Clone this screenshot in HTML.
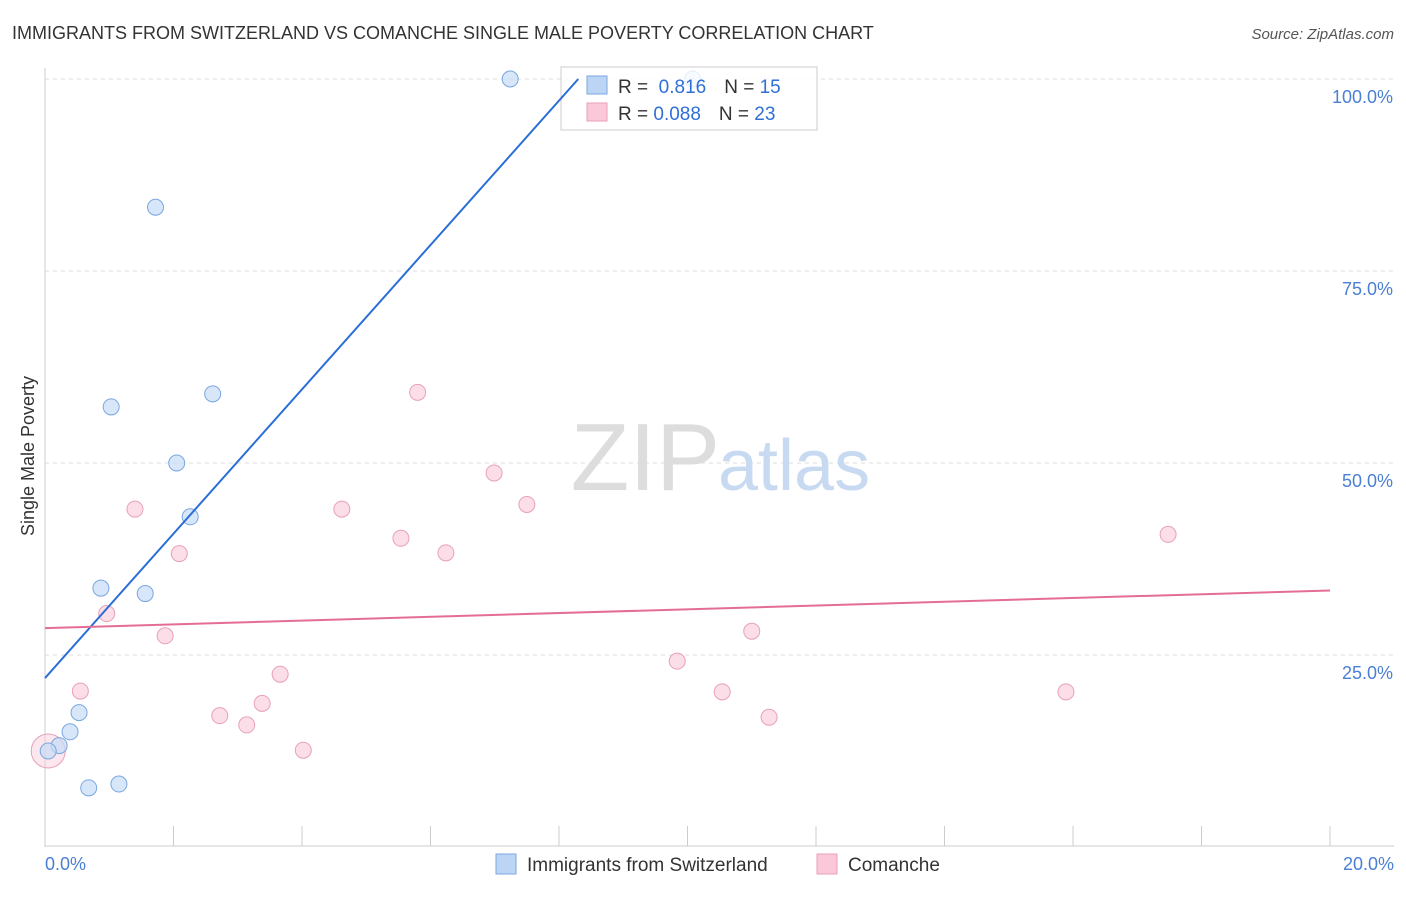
<!DOCTYPE html>
<html><head><meta charset="utf-8"><style>
body{margin:0;background:#fff;font-family:"Liberation Sans",sans-serif;}
svg text{font-family:"Liberation Sans",sans-serif;}
</style></head><body>
<svg width="1406" height="892">
<text x="12" y="39" font-size="18" fill="#333">IMMIGRANTS FROM SWITZERLAND VS COMANCHE SINGLE MALE POVERTY CORRELATION CHART</text>
<text x="1394" y="39" font-size="15" fill="#555" text-anchor="end" font-style="italic">Source: ZipAtlas.com</text>
<g id="grid"></g>
<text x="720" y="490" font-size="96" fill="#ddd" text-anchor="end" font-family="Liberation Serif">ZIP</text>
<text x="718" y="490" font-size="72" fill="#c8daf2">atlas</text>
<text transform="translate(34,456) rotate(-90)" font-size="18" fill="#333" text-anchor="middle">Single Male Poverty</text>
<text x="45" y="870" font-size="18" fill="#4a7fd4">0.0%</text>
<text x="1394" y="870" font-size="18" fill="#4a7fd4" text-anchor="end">20.0%</text>
<g id="marks"></g>
<g>
<rect x="561" y="67" width="256" height="63" fill="#fff" fill-opacity="0.8" stroke="#ccc"/>
<rect x="587" y="76" width="20" height="18" fill="#bcd5f5" stroke="#7aa7e0"/>
<rect x="587" y="103" width="20" height="18" fill="#fac8d8" stroke="#eba0b8"/>
<text x="618" y="93" font-size="19" fill="#333">R = <tspan fill="#2f6fd6">&#160;0.816</tspan><tspan dx="18">N = </tspan><tspan fill="#2f6fd6">15</tspan></text>
<text x="618" y="120" font-size="19" fill="#333">R = <tspan fill="#2f6fd6">0.088</tspan><tspan dx="18">N = </tspan><tspan fill="#2f6fd6">23</tspan></text>
</g>
<g id="lines"></g>
<g>
<rect x="496" y="854" width="20" height="20" fill="#bcd5f5" stroke="#7aa7e0"/>
<text x="527" y="871" font-size="19" fill="#333">Immigrants from Switzerland</text>
<rect x="817" y="854" width="20" height="20" fill="#fac8d8" stroke="#eba0b8"/>
<text x="848" y="871" font-size="19" fill="#333">Comanche</text>
</g>
</svg>
<script>
const yTicks=[25,50,75,100];
const xTicks=[0,2,4,6,8,10,12,14,16,18,20];
const blueX=[7.24,1.72,1.03,2.61,2.05,2.26,0.87,1.56,0.53,0.39,0.22,0.68,1.15,0.05,10.08];
const blueY=[100,83.3,57.3,59,50,43,33.7,33,17.5,15,13.2,7.7,8.2,12.5,100];
const pinkX=[1.4,2.09,0.96,1.87,0.55,4.62,5.54,6.24,5.8,6.99,7.5,3.66,3.38,2.72,3.14,4.02,9.84,10.54,11.0,11.27,15.89,17.48,0.05];
const pinkY=[44,38.2,30.4,27.5,20.3,44,40.2,38.3,59.2,48.7,44.6,22.5,18.7,17.1,15.9,12.6,24.2,20.2,28.1,16.9,20.2,40.7,12.5];
const blueTrend=[[0,22],[8.3,100]];
const pinkTrend=[[0,28.5],[20,33.4]];
const X=v=>45+v/20*1285, Y=v=>847-v/100*768;
const NS="http://www.w3.org/2000/svg";
const g=document.getElementById('grid'), m=document.getElementById('marks'), ln=document.getElementById('lines');
function mk(tag,a,p){const e=document.createElementNS(NS,tag);for(const k in a)e.setAttribute(k,a[k]);p.appendChild(e);return e;}
let ax=mk('line',{x1:45,y1:68,x2:45,y2:847,stroke:'#ccc'},g);


let bx=mk('line',{x1:45,y1:846,x2:1394,y2:846,stroke:'#ccc'},g);


yTicks.forEach(t=>{
 const l=mk('line',{x1:45,x2:1394,y1:Y(t),y2:Y(t),stroke:'#ddd','stroke-dasharray':'4,4'},g);
 
 
 const tx=mk('text',{x:1393,y:Y(t)+24,'font-size':18,fill:'#4a7fd4','text-anchor':'end'},g);
 tx.textContent=t.toFixed(1)+'%';
 
 
});
xTicks.forEach(t=>{
 const l=mk('line',{x1:X(t),x2:X(t),y1:826,y2:846,stroke:'#ccc'},g);
 
 
});
function pts(xs,ys,fill,stroke,name){xs.forEach((x,i)=>{
 const big=i===xs.length-1&&x<0.1;
 const c=mk('circle',{cx:X(x),cy:Y(ys[i]),r:big?17:8,fill:fill,'fill-opacity':big?0.5:0.7,stroke:stroke,'stroke-width':1},m);
 
 
});}
pts(pinkX,pinkY,'#fad0de','#e8a0b8','comanche-point');
pts(blueX,blueY,'#c8dcf6','#7aa7e0','switzerland-point');
let bl=mk('line',{x1:X(blueTrend[0][0]),y1:Y(blueTrend[0][1]),x2:X(blueTrend[1][0]),y2:Y(blueTrend[1][1]),stroke:'#2b6fd6','stroke-width':2},ln);


let pl=mk('line',{x1:X(pinkTrend[0][0]),y1:Y(pinkTrend[0][1]),x2:X(pinkTrend[1][0]),y2:Y(pinkTrend[1][1]),stroke:'#e46d95','stroke-width':2},ln);


</script>
</body></html>
